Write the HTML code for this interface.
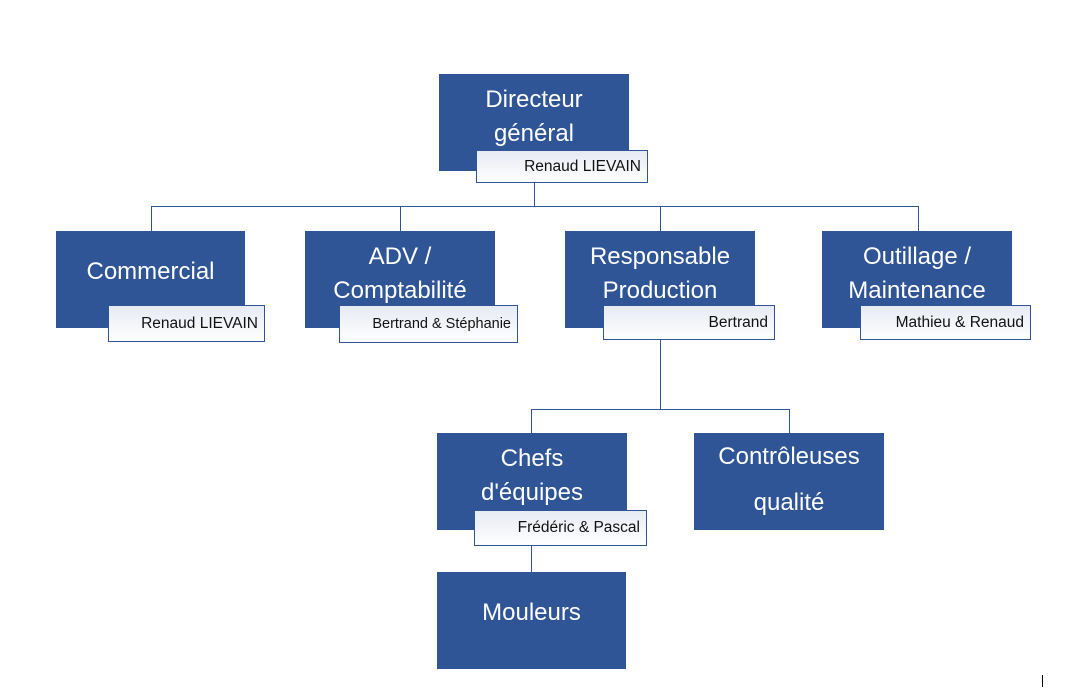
<!DOCTYPE html>
<html><head><style>
body{margin:0;width:1081px;height:695px;background:#fff;position:relative;overflow:hidden;font-family:"Liberation Sans","DejaVu Sans",sans-serif}
.b{position:absolute;background:#2f5597;color:#fff;font-size:24px;line-height:34px;text-align:center;display:flex;align-items:center;justify-content:center;box-sizing:border-box}
.l{position:absolute;background:linear-gradient(#e6eaf3,#fff);border:1px solid #2f5597;font-size:15.5px;color:#111;display:flex;align-items:center;justify-content:flex-end;padding-right:6px;box-sizing:border-box}
.h{position:absolute;background:#2f5597;height:1px}
.v{position:absolute;background:#2f5597;width:1px}
</style></head><body>
<div class="v" style="left:534px;top:183px;height:23px"></div>
<div class="h" style="left:151px;top:206px;width:768px"></div>
<div class="v" style="left:151px;top:206px;height:25px"></div>
<div class="v" style="left:400px;top:206px;height:25px"></div>
<div class="v" style="left:660px;top:206px;height:25px"></div>
<div class="v" style="left:918px;top:206px;height:25px"></div>
<div class="v" style="left:660px;top:340px;height:69px"></div>
<div class="h" style="left:531px;top:409px;width:259px"></div>
<div class="v" style="left:531px;top:409px;height:24px"></div>
<div class="v" style="left:789px;top:409px;height:24px"></div>
<div class="v" style="left:531px;top:546px;height:26px"></div>

<div class="b" style="left:439px;top:74px;width:190px;height:97px;padding-bottom:12px">Directeur<br>général</div>
<div class="l" style="left:476px;top:150px;width:172px;height:33px">Renaud LIEVAIN</div>

<div class="b" style="left:56px;top:231px;width:189px;height:97px;padding-bottom:16px">Commercial</div>
<div class="l" style="left:108px;top:305px;width:157px;height:37px">Renaud LIEVAIN</div>

<div class="b" style="left:305px;top:231px;width:190px;height:97px;padding-bottom:12px">ADV /<br>Comptabilité</div>
<div class="l" style="left:339px;top:305px;width:179px;height:38px;font-size:14.5px">Bertrand &amp; Stéphanie</div>

<div class="b" style="left:565px;top:231px;width:190px;height:97px;padding-bottom:12px">Responsable<br>Production</div>
<div class="l" style="left:603px;top:305px;width:172px;height:35px">Bertrand</div>

<div class="b" style="left:822px;top:231px;width:190px;height:97px;padding-bottom:12px">Outillage /<br>Maintenance</div>
<div class="l" style="left:860px;top:305px;width:171px;height:35px">Mathieu &amp; Renaud</div>

<div class="b" style="left:437px;top:433px;width:190px;height:97px;padding-bottom:12px">Chefs<br>d'équipes</div>
<div class="l" style="left:474px;top:510px;width:173px;height:36px">Frédéric &amp; Pascal</div>

<div class="b" style="left:694px;top:433px;width:190px;height:97px;line-height:46px;padding-bottom:4px">Contrôleuses<br>qualité</div>

<div class="b" style="left:437px;top:572px;width:189px;height:97px;padding-bottom:16px">Mouleurs</div>

<div class="v" style="left:1042px;top:675px;height:12px;background:#000"></div>
</body></html>
